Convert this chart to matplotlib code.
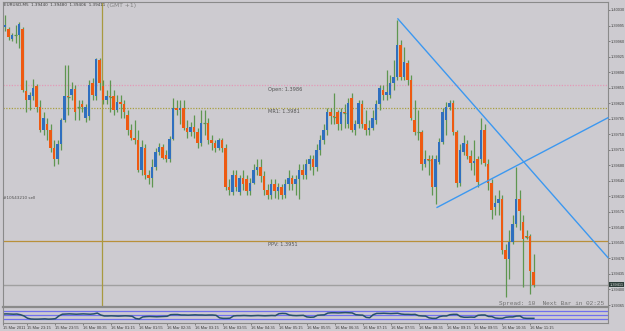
import matplotlib
matplotlib.use("Agg")
import matplotlib.pyplot as plt
import numpy as np

# ---------------- data (prices in points, 1e-5) ----------------
opens_pts = [140008,139992,139988,139965,139974,139974,139988,139848,139826,139837,
139859,139812,139760,139772,139760,139720,139693,139727,139783,139835,
139839,139853,139812,139819,139787,139790,139866,139835,139918,139859,
139828,139835,139835,139805,139823,139817,139794,139760,139742,139738,
139670,139720,139659,139652,139677,139711,139722,139704,139695,139740,
139810,139805,139808,139765,139754,139767,139754,139731,139776,139776,
139738,139731,139720,139736,139720,139632,139619,139659,139619,139652,
139648,139621,139641,139670,139677,139655,139625,139614,139637,139621,
139630,139614,139637,139652,139637,139648,139670,139659,139682,139693,
139675,139715,139738,139760,139799,139790,139799,139772,139799,139772,
139832,139760,139772,139817,139772,139760,139765,139783,139817,139850,
139839,139839,139866,139880,139952,139880,139911,139873,139783,139756,
139756,139682,139693,139693,139630,139688,139733,139783,139812,139821,
139756,139641,139711,139727,139700,139686,139693,139693,139760,139682,
139641,139585,139596,139603,139490,139468,139508,139547,139603,139553,
139520,139520,139440]

closes_pts = [139992,139997,139970,139974,139973,139999,139850,139826,139839,139855,
139812,139760,139787,139760,139720,139693,139727,139783,139835,139834,
139853,139799,139811,139812,139812,139862,139839,139920,139866,139828,
139835,139834,139805,139823,139817,139799,139760,139742,139738,139670,
139722,139659,139652,139677,139711,139722,139697,139695,139740,139810,
139805,139808,139765,139754,139767,139756,139731,139776,139775,139738,
139731,139720,139736,139720,139632,139625,139659,139630,139652,139637,
139621,139641,139670,139677,139655,139625,139614,139637,139621,139630,
139614,139637,139652,139637,139648,139670,139659,139682,139693,139675,
139715,139738,139760,139801,139790,139789,139772,139799,139798,139821,
139760,139772,139821,139772,139760,139765,139787,139817,139855,139839,
139846,139866,139880,139952,139880,139913,139873,139787,139756,139755,
139682,139693,139692,139632,139693,139733,139801,139812,139821,139756,
139641,139715,139731,139700,139686,139690,139643,139760,139686,139641,
139580,139596,139603,139490,139468,139508,139547,139603,139576,139513,
139519,139441,139411]

highs_pts = [140015,140019,139992,139979,139997,140003,139992,139873,139846,139875,
139864,139828,139799,139787,139772,139738,139738,139787,139907,139907,
139868,139862,139828,139828,139817,139873,139877,139922,139922,139873,
139850,139873,139850,139839,139839,139828,139805,139772,139783,139760,
139738,139727,139670,139693,139720,139731,139727,139715,139745,139832,
139828,139828,139828,139783,139778,139794,139765,139805,139805,139787,
139749,139738,139742,139742,139727,139648,139670,139670,139659,139670,
139659,139652,139682,139693,139693,139666,139637,139648,139648,139641,
139637,139648,139670,139659,139657,139682,139682,139693,139704,139704,
139727,139749,139772,139810,139810,139844,139805,139810,139817,139832,
139844,139783,139828,139828,139805,139783,139805,139828,139862,139862,
139895,139884,139918,140008,139963,139947,139918,139884,139828,139805,
139760,139715,139704,139704,139704,139742,139810,139823,139828,139828,
139760,139727,139749,139738,139715,139738,139700,139787,139772,139693,
139648,139614,139625,139614,139502,139535,139569,139675,139625,139569,
139535,139524,139480]

lows_pts = [139985,139983,139963,139961,139956,139945,139846,139799,139805,139828,
139801,139754,139749,139738,139711,139679,139682,139715,139778,139794,
139828,139783,139783,139801,139778,139783,139828,139828,139850,139817,
139817,139801,139794,139801,139787,139787,139749,139738,139727,139664,
139659,139648,139637,139632,139670,139704,139693,139688,139688,139738,
139794,139772,139760,139742,139747,139742,139720,139724,139749,139727,
139715,139711,139715,139711,139625,139614,139614,139621,139612,139625,
139614,139612,139637,139659,139643,139614,139603,139603,139607,139603,
139603,139607,139625,139625,139614,139603,139648,139648,139670,139659,
139666,139704,139727,139749,139772,139772,139760,139760,139765,139765,
139754,139749,139765,139765,139749,139749,139760,139772,139805,139828,
139828,139832,139850,139873,139873,139873,139862,139783,139749,139738,
139670,139675,139659,139614,139592,139682,139727,139749,139805,139749,
139630,139634,139704,139693,139670,139659,139630,139682,139679,139625,
139558,139569,139569,139479,139382,139423,139502,139540,139535,139405,
139513,139389,139406]

indicator = [56,57,56,55,56,52,44,30,25,24,
24,25,26,24,25,27,44,55,56,57,
56,55,56,57,56,55,57,62,50,44,
44,45,44,43,44,45,44,42,28,25,
38,40,41,40,39,40,41,42,52,53,
53,50,50,49,50,51,50,50,49,50,
50,48,32,29,29,30,44,46,46,47,
46,45,46,47,46,45,46,47,46,58,
60,59,50,47,46,47,48,38,36,37,
48,50,51,62,64,64,63,64,65,64,
63,52,50,49,35,33,52,60,60,61,
60,59,60,61,56,54,54,53,54,46,
44,43,32,29,29,40,44,44,52,54,
54,40,36,36,37,36,48,50,50,41,
40,31,29,29,36,38,38,43,44,31,
29,29,29]

pivot_names = ["Open", "MR1", "PPV"]
pivot_values = [1.3986, 1.3981, 1.3951]
current_price = 1.39411

# trend lines: (bar index, price)
trend1 = ([113.2, 173.2], [1.40010, 1.39472])
trend2 = ([124.4, 173.2], [1.39585, 1.39787])

price_ticks = [1.40030 - 0.00035 * k for k in range(20)]

time_tick_bars = [0] + list(range(7, 152, 8))
time_tick_labels = ["15 Mar 2011", "15 Mar 23:15", "15 Mar 23:55", "16 Mar 00:35",
                    "16 Mar 01:15", "16 Mar 01:55", "16 Mar 02:35", "16 Mar 03:15",
                    "16 Mar 03:55", "16 Mar 04:35", "16 Mar 05:15", "16 Mar 05:55",
                    "16 Mar 06:35", "16 Mar 07:15", "16 Mar 07:55", "16 Mar 08:35",
                    "16 Mar 09:15", "16 Mar 09:55", "16 Mar 10:35", "16 Mar 11:15"]

separator_bar = 28.7
indicator_levels = [77, 50, 23]

# ---------------- drawing ----------------
o = np.array(opens_pts) / 1e5
c = np.array(closes_pts) / 1e5
h = np.maximum(np.array(highs_pts) / 1e5, np.maximum(o, c))
l = np.minimum(np.array(lows_pts) / 1e5, np.minimum(o, c))
x = np.arange(len(c))

W, H = 625, 331
bg = '#cdcbd0'
fig = plt.figure(figsize=(W / 100, H / 100), dpi=100)
fig.patch.set_facecolor(bg)

x0 = (3 - 1.7) / 3.5
x1 = (608 - 1.7) / 3.5
tick_font = 'Liberation Sans'

ax = fig.add_axes([3 / W, 1 - 307 / H, 605 / W, 305 / H])
ax.set_facecolor(bg)
ax.set_xlim(x0, x1)
ax.set_ylim(1.393605, 1.400480)
for s in ax.spines.values():
    s.set_color('#8a8a8a')
    s.set_linewidth(0.8)

# pivot / level lines
ax.axhline(pivot_values[0], color='#e39ab8', lw=0.9, ls=(0, (1, 1.2)), zorder=1)
ax.axhline(pivot_values[1], color='#a8a040', lw=0.9, ls=(0, (1, 1.2)), zorder=1)
ax.axhline(pivot_values[2], color='#b8903a', lw=0.9, zorder=1)
ax.axhline(current_price, color='#a0a0a0', lw=1.0, zorder=1)
ax.axvline(separator_bar, color='#a89a40', lw=0.9, zorder=1)

for name, val in zip(pivot_names, pivot_values):
    ax.annotate(f"{name}: {val:.4f}", (76, val), xytext=(0, -1.2), textcoords='offset points',
                fontsize=3.6, color='#555555', va='top', ha='left')

# candles
wick_col = '#5e9650'
ax.vlines(x, l, h, color=wick_col, lw=0.9, zorder=2)
up = c > o
dn = c < o
body_w = 0.72
ax.bar(x[up], (c - o)[up], bottom=o[up], width=body_w, color='#2f6fbf', linewidth=0, zorder=3)
ax.bar(x[dn], (o - c)[dn], bottom=c[dn], width=body_w, color='#ee5a12', linewidth=0, zorder=3)
flat = np.abs(c - o) < 0.000025
ax.hlines(c[flat], x[flat] - 0.4, x[flat] + 0.4, color=wick_col, lw=0.9, zorder=3)

# trend lines
ax.plot(trend1[0], trend1[1], color='#3c98f0', lw=1.0, zorder=4, clip_on=False)
ax.plot(trend2[0], trend2[1], color='#3c98f0', lw=1.0, zorder=4, clip_on=False)

# right price axis
ax.yaxis.tick_right()
ax.set_yticks(price_ticks)
ax.set_yticklabels([f"{p:.5f}" for p in price_ticks], family=tick_font)
ax.tick_params(axis='y', length=1.2, width=0.6, color='#707070', labelsize=2.8,
               labelcolor='#404040', pad=0.6)
ax.set_xticks([])

# current price box
ax.annotate(f"{current_price:.5f}", (1.0, current_price), xycoords=('axes fraction', 'data'),
            xytext=(1.0, 0), textcoords='offset points', fontsize=2.8, color='#e0e0e0',
            va='center', ha='left', family=tick_font,
            bbox=dict(boxstyle='square,pad=0.12', fc='#2c3c38', ec='none'))

# texts
fig.text(4 / W, 1 - 5 / H, "EURUSD,M5  1.39440  1.39480  1.39406  1.39411", fontsize=3.0,
         color='#404040', va='center', ha='left')
fig.text(107 / W, 1 - 5.5 / H, "(GMT +1)", fontsize=4.3, color='#808080', va='center', ha='left')
fig.text(3 / W, 1 - 198 / H, "#10543210 sell", fontsize=3.0, color='#505050', va='center', ha='left')
fig.text(604 / W, 1 - 303 / H, "Spread: 10  Next Bar in 02:25", fontsize=4.4, color='#707070',
         va='center', ha='right', family='Liberation Mono')

# indicator sub-panel
ax2 = fig.add_axes([3 / W, 1 - 323 / H, 605 / W, 16 / H])
ax2.set_facecolor(bg)
ax2.set_xlim(x0, x1)
ax2.set_ylim(0, 100)
for s in ax2.spines.values():
    s.set_color('#8a8a8a')
    s.set_linewidth(0.8)
ax2.spines['top'].set_linewidth(1.6)
for lv in indicator_levels:
    ax2.axhline(lv, color='#7070ee', lw=0.9)
ax2.plot(x, indicator, color='#28506a', lw=1.1)
ax2.set_yticks([])
ax2.set_xticks(time_tick_bars)
ax2.set_xticklabels(time_tick_labels, ha='left', family=tick_font)
ax2.tick_params(axis='x', length=1.5, width=0.6, color='#707070', labelsize=2.9,
                labelcolor='#404040', pad=1)

fig.savefig('out.png', dpi=100, facecolor=bg)
